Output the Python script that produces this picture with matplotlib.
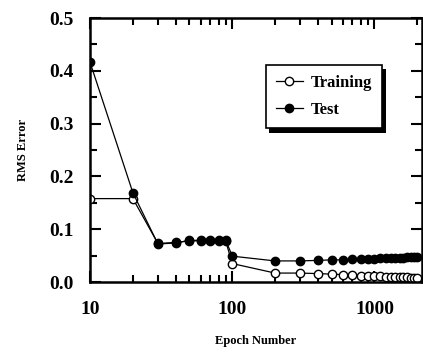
import matplotlib.pyplot as plt
import numpy as np
from matplotlib.patches import Rectangle

plt.rcParams['font.family'] = ['Liberation Serif', 'DejaVu Serif']

epochs = [10, 20, 30, 40, 50, 60, 70, 80, 90, 100,
          200, 300, 400, 500, 600, 700, 800, 900, 1000,
          1100, 1200, 1300, 1400, 1500, 1600, 1700, 1800, 1900, 2000]
training = [0.158, 0.158, 0.073, 0.075, 0.078, 0.078, 0.078, 0.078, 0.077, 0.035,
            0.017, 0.017, 0.016, 0.015, 0.014, 0.013, 0.012, 0.012, 0.011,
            0.011, 0.010, 0.010, 0.010, 0.009, 0.009, 0.009, 0.008, 0.008, 0.008]
test = [0.416, 0.169, 0.072, 0.074, 0.079, 0.079, 0.079, 0.079, 0.079, 0.049,
        0.040, 0.040, 0.041, 0.042, 0.042, 0.043, 0.043, 0.044, 0.044,
        0.045, 0.045, 0.045, 0.046, 0.046, 0.046, 0.047, 0.047, 0.047, 0.048]

fig = plt.figure(figsize=(4.23, 3.53), dpi=100)
ax = fig.add_axes([0.213, 0.201, 0.784, 0.748])

ax.plot(epochs, training, '-o', color='black', mfc='white', mec='black',
        ms=6, lw=0.9, mew=1.0, label='Training', zorder=2)
ax.plot(epochs, test, '-o', color='black', mfc='black', mec='black',
        ms=6, lw=0.9, label='Test', zorder=3)

ax.set_xscale('log')
ax.set_xlim(10, 2150)
ax.set_ylim(0, 0.5)
ax.set_xticks([10, 100, 1000])
ax.set_xticklabels(['10', '100', '1000'])
ax.set_yticks([0.0, 0.1, 0.2, 0.3, 0.4, 0.5])
ax.set_yticklabels(['0.0', '0.1', '0.2', '0.3', '0.4', '0.5'])
ax.set_yticks(np.arange(0.05, 0.5, 0.1), minor=True)

ax.tick_params(which='both', direction='in', top=True, right=True, width=1.5,
               labelsize=14)
ax.tick_params(axis='y', pad=12)
ax.tick_params(axis='x', pad=14)
ax.tick_params(which='major', length=8)
ax.tick_params(which='minor', length=5)
for lab in ax.get_xticklabels() + ax.get_yticklabels():
    lab.set_fontweight('bold')
for s in ax.spines.values():
    s.set_linewidth(1.8)

ax.set_xlabel('Epoch Number', fontsize=9, fontweight='bold', labelpad=12)
ax.set_ylabel('RMS Error', fontsize=9, fontweight='bold', labelpad=14)

# legend with drop shadow
leg = ax.legend(loc='upper left', bbox_to_anchor=(0.505, 0.855),
                prop={'size': 12, 'weight': 'bold'},
                frameon=True, fancybox=False, shadow=False, handlelength=1.6,
                borderpad=0.6, labelspacing=0.7, handletextpad=0.5)
leg.get_frame().set_edgecolor('black')
leg.get_frame().set_linewidth(1.2)
leg.get_frame().set_alpha(1)
leg.set_zorder(6)
fig.canvas.draw()
bb = leg.get_window_extent().transformed(fig.transFigure.inverted())
ax.add_patch(Rectangle((bb.x0 + 0.008, bb.y0 - 0.012), bb.width, bb.height,
                       transform=fig.transFigure, facecolor='black',
                       edgecolor='none', zorder=5, clip_on=False))

fig.savefig('out.png', dpi=100)
